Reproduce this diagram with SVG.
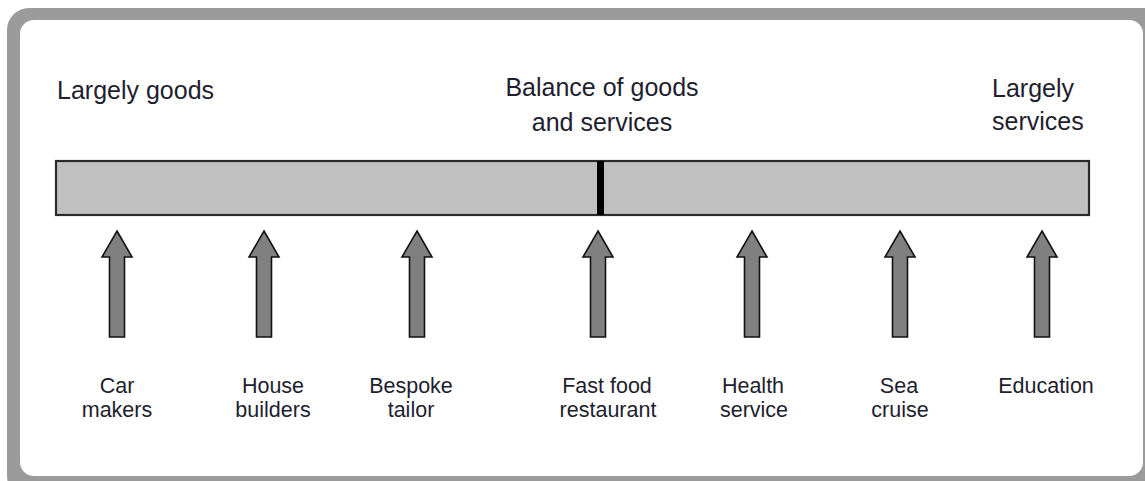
<svg xmlns="http://www.w3.org/2000/svg" width="1145" height="481" viewBox="0 0 1145 481">
<style>
  .t { font-family: "Liberation Sans", Arial, sans-serif; fill: #1e1e2e; }
  .big { font-size: 25px; }
  .sm { font-size: 21.5px; text-anchor: middle; }
  .arrow { fill: #808080; stroke: #111; stroke-width: 1.6; stroke-linejoin: miter; }
</style>
<defs>
  <path id="arr" d="M0,231 L15,257 L7.5,257 L7.5,337 L-7.5,337 L-7.5,257 L-15,257 Z"/>
</defs>
<g id="frame">
  <rect x="7" y="8" width="1160" height="490" rx="22" ry="22" fill="#9b9b9b"/>
  <rect x="20" y="20" width="1123" height="456" rx="14" ry="14" fill="#ffffff"/>
</g>
<g id="bar">
  <rect x="56" y="161" width="1033" height="54" fill="#c0c0c0" stroke="#2a2a2a" stroke-width="2.2"/>
  <rect x="597" y="161" width="7" height="54" fill="#000"/>
</g>
<g id="label-goods">
  <text class="t big" x="57" y="99">Largely goods</text>
</g>
<g id="label-balance">
  <text class="t big" x="602" y="96" text-anchor="middle">Balance of goods</text>
  <text class="t big" x="602" y="131" text-anchor="middle">and services</text>
</g>
<g id="label-services">
  <text class="t big" x="992" y="97">Largely</text>
  <text class="t big" x="992" y="130">services</text>
</g>
<g id="connectors">
  <use href="#arr" class="arrow" x="117"/>
  <use href="#arr" class="arrow" x="264"/>
  <use href="#arr" class="arrow" x="417"/>
  <use href="#arr" class="arrow" x="598"/>
  <use href="#arr" class="arrow" x="752"/>
  <use href="#arr" class="arrow" x="900"/>
  <use href="#arr" class="arrow" x="1042"/>
</g>
<g id="car-makers"><text class="t sm" x="117" y="393">Car</text><text class="t sm" x="117" y="417">makers</text></g>
<g id="house-builders"><text class="t sm" x="273" y="393">House</text><text class="t sm" x="273" y="417">builders</text></g>
<g id="bespoke-tailor"><text class="t sm" x="411" y="393">Bespoke</text><text class="t sm" x="411" y="417">tailor</text></g>
<g id="fast-food"><text class="t sm" x="607" y="393">Fast food</text><text class="t sm" x="608" y="417">restaurant</text></g>
<g id="health-service"><text class="t sm" x="753" y="393">Health</text><text class="t sm" x="754" y="417">service</text></g>
<g id="sea-cruise"><text class="t sm" x="899" y="393">Sea</text><text class="t sm" x="900" y="417">cruise</text></g>
<g id="education"><text class="t sm" x="1046" y="393">Education</text></g>
</svg>
